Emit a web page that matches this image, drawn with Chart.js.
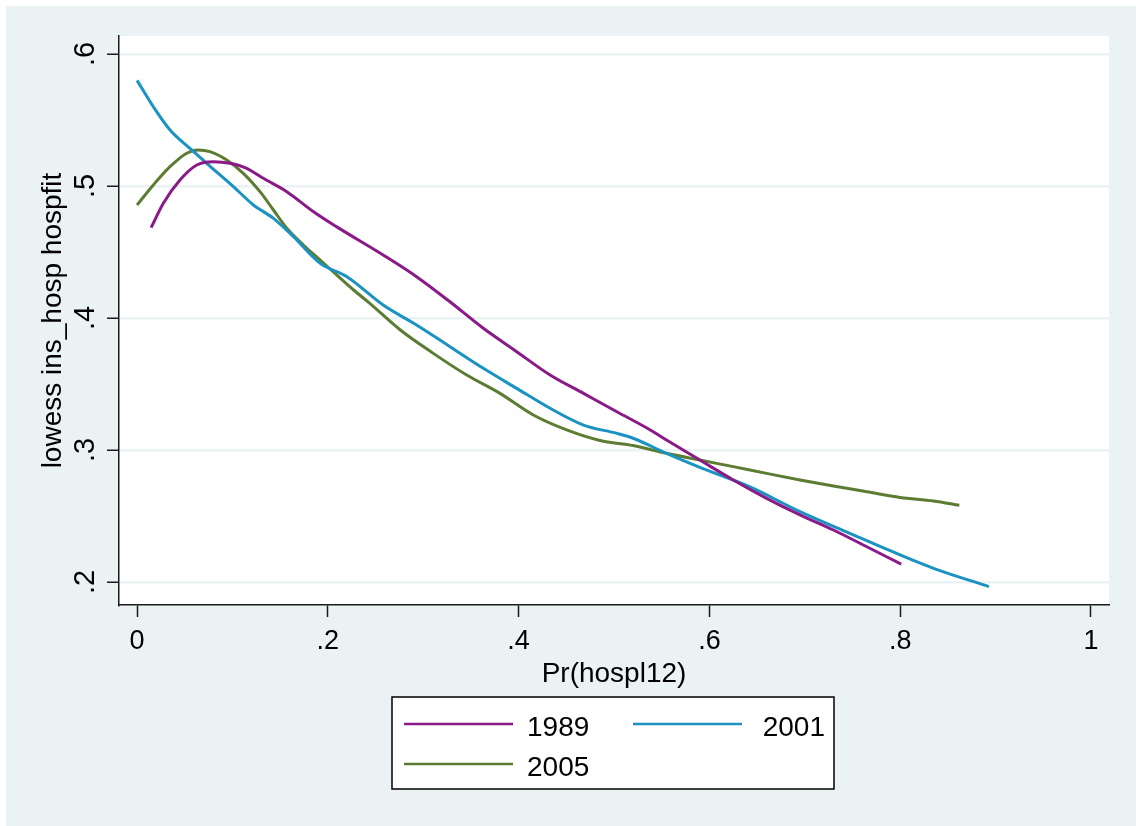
<!DOCTYPE html>
<html>
<head>
<meta charset="utf-8">
<script src="https://cdn.jsdelivr.net/npm/chart.js@4/dist/chart.umd.min.js"></script>
<style>
html,body{margin:0;padding:0;background:#ffffff;}
canvas{display:block;}
</style>
</head>
<body>
<canvas id="c" width="1136" height="826"></canvas>
<script>
// ---- data ----
const seriesNames = ['1989', '2001', '2005'];

const x1989 = [0.0147, 0.0276, 0.045, 0.0626, 0.080, 0.0975, 0.115, 0.1324, 0.157, 0.185, 0.209, 0.258, 0.293, 0.328, 0.363, 0.398, 0.433, 0.468, 0.503, 0.538, 0.555, 0.590, 0.625, 0.660, 0.695, 0.730, 0.765, 0.801];
const y1989 = [0.4684, 0.4869, 0.5045, 0.5159, 0.5184, 0.5172, 0.5134, 0.5058, 0.4957, 0.4805, 0.4692, 0.4477, 0.4313, 0.4123, 0.3922, 0.3745, 0.3568, 0.3429, 0.3290, 0.3152, 0.3076, 0.2924, 0.2773, 0.2634, 0.2508, 0.2394, 0.2267, 0.2136];

const x2001 = [0, 0.0171, 0.0346, 0.0573, 0.073, 0.101, 0.122, 0.143, 0.164, 0.192, 0.220, 0.258, 0.293, 0.328, 0.363, 0.398, 0.433, 0.468, 0.503, 0.520, 0.555, 0.590, 0.642, 0.695, 0.747, 0.800, 0.835, 0.893];
const y2001 = [0.580, 0.560, 0.5424, 0.5273, 0.5172, 0.4995, 0.4856, 0.4755, 0.4616, 0.4414, 0.4313, 0.4098, 0.3947, 0.3783, 0.3619, 0.3467, 0.3316, 0.3189, 0.3126, 0.3089, 0.2975, 0.2869, 0.2722, 0.2533, 0.2369, 0.2205, 0.2104, 0.1965];

const x2005 = [0, 0.0171, 0.0346, 0.0521, 0.064, 0.0765, 0.094, 0.1114, 0.1289, 0.143, 0.157, 0.1743, 0.192, 0.2093, 0.227, 0.244, 0.276, 0.3106, 0.3456, 0.3805, 0.4154, 0.4504, 0.4853, 0.520, 0.555, 0.590, 0.625, 0.660, 0.695, 0.730, 0.765, 0.800, 0.835, 0.862];
const y2005 = [0.4856, 0.5008, 0.5146, 0.5248, 0.5273, 0.5260, 0.5197, 0.5096, 0.4957, 0.4818, 0.4680, 0.4553, 0.4439, 0.4326, 0.4212, 0.4111, 0.3909, 0.3732, 0.3568, 0.3429, 0.3265, 0.3152, 0.3072, 0.3034, 0.2975, 0.2924, 0.2874, 0.2823, 0.2773, 0.2727, 0.2684, 0.2641, 0.2614, 0.2581];

const xTicks = [0, 0.2, 0.4, 0.6, 0.8, 1];
const xTickLabels = ['0', '.2', '.4', '.6', '.8', '1'];
const yTicks = [0.2, 0.3, 0.4, 0.5, 0.6];
const yTickLabels = ['.2', '.3', '.4', '.5', '.6'];
const xTitle = 'Pr(hospl12)';
const yTitle = 'lowess ins_hosp hospfit';

// ---- styles ----
const FONT = '"Liberation Sans", Arial, Helvetica, sans-serif';
const seriesColors = ['#8a1a88', '#1a93c3', '#5d7c33'];
const BG = '#eaf2f3';
const AXIS = '#1a1a1a';

function zip(xs, ys) { return xs.map((x, i) => ({ x: x, y: ys[i] })); }
const seriesData = [zip(x1989, y1989), zip(x2001, y2001), zip(x2005, y2005)];

const bgPlugin = {
  id: 'bg',
  beforeDraw(chart) {
    const ctx = chart.ctx, a = chart.chartArea;
    ctx.save();
    ctx.fillStyle = '#ffffff';
    ctx.fillRect(0, 0, chart.width, chart.height);
    ctx.fillStyle = BG;
    ctx.fillRect(6, 6, chart.width - 6, chart.height - 6);
    ctx.fillStyle = '#ffffff';
    ctx.fillRect(a.left, a.top, a.right - a.left, a.bottom - a.top);
    ctx.restore();
  }
};

const legendPlugin = {
  id: 'stataLegend',
  afterDraw(chart) {
    const ctx = chart.ctx;
    const box = { l: 392, t: 697, r: 834, b: 789 };
    ctx.save();
    ctx.fillStyle = '#ffffff';
    ctx.fillRect(box.l, box.t, box.r - box.l, box.b - box.t);
    ctx.strokeStyle = '#000000';
    ctx.lineWidth = 1.5;
    ctx.strokeRect(box.l, box.t, box.r - box.l, box.b - box.t);
    const slots = [
      { x1: 404, x2: 513, ly: 724, tx: 527, ty: 736, align: 'left' },
      { x1: 633, x2: 742, ly: 724, tx: 825, ty: 736, align: 'right' },
      { x1: 404, x2: 513, ly: 764, tx: 527, ty: 776, align: 'left' }
    ];
    chart.data.datasets.forEach((ds, i) => {
      const s = slots[i];
      ctx.strokeStyle = ds.borderColor;
      ctx.lineWidth = 2.7;
      ctx.beginPath();
      ctx.moveTo(s.x1, s.ly);
      ctx.lineTo(s.x2, s.ly);
      ctx.stroke();
      ctx.fillStyle = '#000000';
      ctx.font = '28px ' + FONT;
      ctx.textAlign = s.align;
      ctx.textBaseline = 'alphabetic';
      ctx.fillText(ds.label, s.tx, s.ty);
    });
    ctx.restore();
  }
};

new Chart(document.getElementById('c'), {
  type: 'line',
  data: {
    datasets: seriesNames.map((name, i) => ({
      label: name,
      data: seriesData[i],
      borderColor: seriesColors[i],
      backgroundColor: seriesColors[i],
      borderWidth: 3,
      pointRadius: 0,
      fill: false,
      cubicInterpolationMode: 'monotone'
    }))
  },
  options: {
    responsive: false,
    animation: false,
    devicePixelRatio: 1,
    layout: { padding: { top: 36, right: 27, left: 0, bottom: 0 } },
    plugins: { legend: { display: false }, tooltip: { enabled: false } },
    scales: {
      x: {
        type: 'linear',
        position: 'bottom',
        min: -0.0189,
        max: 1.0189,
        afterBuildTicks(scale) { scale.ticks = xTicks.map(v => ({ value: v })); },
        afterFit(scale) { scale.height = 221; },
        ticks: {
          callback: (v) => { const i = xTicks.findIndex(t => Math.abs(t - v) < 1e-9); return i >= 0 ? xTickLabels[i] : ''; },
          font: { family: FONT, size: 27 },
          color: '#000000',
          padding: 8,
          maxRotation: 0,
          minRotation: 0,
          autoSkip: false
        },
        grid: { drawOnChartArea: false, drawTicks: true, tickLength: 12, tickColor: AXIS, tickWidth: 1.5 },
        border: { display: true, color: AXIS, width: 1.5 },
        title: {
          display: true,
          text: xTitle,
          color: '#000000',
          font: { family: FONT, size: 28 },
          padding: { top: 0, bottom: 135 }
        }
      },
      y: {
        type: 'linear',
        position: 'left',
        min: 0.1826,
        max: 0.6136,
        afterBuildTicks(scale) { scale.ticks = yTicks.map(v => ({ value: v })); },
        afterFit(scale) { scale.width = 119; },
        ticks: {
          callback: (v) => { const i = yTicks.findIndex(t => Math.abs(t - v) < 1e-9); return i >= 0 ? yTickLabels[i] : ''; },
          font: { family: FONT, size: 29 },
          color: '#000000',
          padding: 9,
          minRotation: 90,
          maxRotation: 90,
          crossAlign: 'center',
          autoSkip: false
        },
        grid: { color: BG, lineWidth: 2.5, drawTicks: true, tickLength: 12, tickColor: AXIS, tickWidth: 1.5 },
        border: { display: true, color: AXIS, width: 1.5 },
        title: {
          display: true,
          text: yTitle,
          color: '#000000',
          font: { family: FONT, size: 28 },
          padding: { top: 36, bottom: 0 }
        }
      }
    }
  },
  plugins: [bgPlugin, legendPlugin]
});
</script>
</body>
</html>
